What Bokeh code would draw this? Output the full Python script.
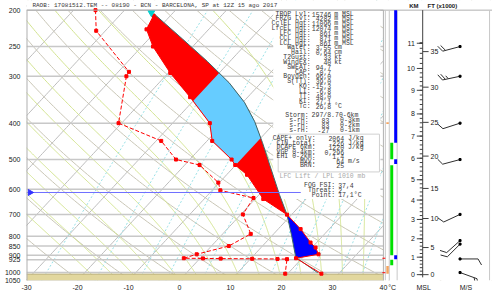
import numpy as np
from bokeh.plotting import figure
from bokeh.models import Range1d, FixedTicker
from bokeh.embed import file_html
from bokeh.resources import INLINE
from bokeh.core.properties import value

# ------------------------------------------------------------------ data
title_text = "RAOB:  17081512.TEM  --  08190 - BCN - BARCELONA, SP at 12Z 15 ago 2017"

pressure_ticks = [200, 250, 300, 400, 500, 600, 700, 800, 850, 900, 925, 1000, 1050]
temp_ticks = [-30, -20, -10, 0, 10, 20, 30, 40]

# environmental temperature (hPa, degC)
env_p = [207, 225, 250, 294, 341, 400, 446, 500, 517, 549, 637, 701, 766, 832, 858, 894, 916, 1007]
env_t = [-53.3, -52.2, -47.8, -39.6, -31.3, -22.7, -19.0, -11.8, -10.1, -6.0, 1.6, 9.1, 14.4, 18.8, 20.7, 22.5, 18.8, 26.6]

# lifted parcel path
parcel_p = [205, 239, 274, 312, 352, 396, 451, 533, 619, 701, 799, 911, 1001]
parcel_t = [-53.4, -43.3, -34.4, -26.3, -19.7, -14.2, -8.8, -2.1, 3.9, 9.1, 13.9, 18.6, 25.7]

# dew point
dew_p = [200, 227, 292, 300, 400, 446, 500, 517, 576, 604, 633, 700, 789, 850, 894, 916, 917, 918, 919, 920, 921, 1007]
dew_t = [-65.7, -61.8, -47.9, -47.6, -40.6, -29.0, -22.7, -17.1, -10.2, -8.4, -0.5, 0.4, 5.5, 3.4, -1.4, -3.2, 0.6, 4.1, 10.3, 15.3, 17.2, 19.5]

cross_p = 701          # parcel / environment crossing
lfc_p = 911
el_p = 203
hail_zone = [-30, -10]  # isotherms bounding the hail growth zone
frzg_p = 612
surface_p = 1010

# height scale of the sounding
km_levels = [0, 1, 2, 3, 4, 5, 6, 7, 8, 9, 10, 11]
km_p = [1013, 910, 813, 722, 641, 566, 496, 433, 378, 327, 286, 245]
ft_levels = [0, 5, 10, 15, 20, 25, 30, 35]

# winds (hPa, direction deg, speed m/s)
wind_p = [250, 300, 400, 500, 700, 822, 840, 920, 1000]
wind_dir = [255, 258, 252, 255, 245, 228, 225, 90, 110]
wind_spd = [20, 25, 10, 10, 10, 10, 10, 10, 15]

# side bars (pressure top, pressure bottom)
blue_bars = [(200, 451), (499, 514), (899, 921)]
green_bars = [(451, 499), (518, 899), (925, 956)]
orange_bars = [(961, 1007), (398, 402)]

stat_labels = ["TROP Lvl:", "FRZG Lvl:", "CclEL Hgt:", "LfcEL Hgt:", "LFC Hgt:", "CCL Hgt:", "LCL Hgt:",
               "Water:", "Hail:", "T2Gust:", "WindEX:", "SWEAT:", "CAP:", "Boyden:", "S(TT):",
               "KO:", "LI:", "TT:", "KI:", "Tc:"]
stat_values = ["15746", "4282", "11096", "12074", "861", "871", "861", "3,55", "0,64", "33", "40",
               "94,7", "-0,7", "96,0", "39,0", "-15,3", "-6,8", "48,0", "27,1", "26,8"]
stat_units = ["m MSL"] * 7 + ["cm", "cm", "kt", "kt", "", "", "", "", "", "", "", "", "°C"]

storm_labels = ["Storm:", "s-rH:", "s-rH:", "s-rH:"]
storm_values = ["297/8.70-6km", "83", "83", "-27"]
storm_units = ["", "0-3km", "0-2km", "0-1km"]

cape_labels = ["CAPE+ only:", "CIN total:", "DCAPE 6km:", "VGP 0-4km:", "EHI 0-2km:", "MVV:", "BRN:"]
cape_values = ["2064", "-226", "1220", "0,296", "1,4", "64", "25"]
cape_units = ["J/kg", "J/kg", "J/kg", "", "", "m/s", ""]

lift_text = "LFC Lift / LPL 1010 mb"
fog_labels = ["FOG FSI:", "Threat:", "Point:"]
fog_values = ["37,4", "2", "17,1°C"]

# ------------------------------------------------------------------ geometry helpers
K = 29.69                 # skew factor
X0, X1 = -30.0, 61.40     # x range (skewed degC)
PTOP, PBOT = 188.5, 1050.0


def skx(t, p):
    return np.asarray(t, float) + K * np.log(PBOT / np.asarray(p, float))


def rx(xref):   # reference pixel column -> data x
    return (xref - 26.0) / 5.186 - 30.0


def ry(yref):   # reference pixel row -> pressure
    return 200.0 * np.exp((yref - 10.0) / 168.3)


W, H = 492, 293
BL, BB = 26, 12
p = figure(width=W, height=H, x_range=Range1d(X0, X1), y_range=Range1d(PBOT, PTOP),
           y_axis_type="log", output_backend="svg", toolbar_location=None,
           min_border_left=BL, min_border_right=0, min_border_top=0, min_border_bottom=BB)
p.outline_line_color = None
p.xgrid.visible = False
p.ygrid.visible = False
p.background_fill_color = "white"

PXX = (W - BL) / (X1 - X0)
PXY = (H - BB) / np.log(PBOT / PTOP)

# ------------------------------------------------------------------ background lines
pp = np.exp(np.linspace(np.log(PBOT), np.log(PTOP), 120))
iso_t = np.arange(-130, 50, 10)
p.multi_line([list(skx(np.full_like(pp, t), pp)) for t in iso_t], [list(pp)] * len(iso_t),
             line_color="#bdbdbd", line_width=1)

theta = np.arange(230, 500, 10)
p.multi_line([list(skx(th * (pp / 1000.0) ** 0.2857 - 273.15, pp)) for th in theta],
             [list(pp)] * len(theta), line_color="#c9c6b6", line_width=1)


def sat_mr(tc, pr):
    es = 6.112 * np.exp(17.67 * tc / (tc + 243.5))
    return 0.622 * es / (pr - es)


def moist(t0):
    pr = np.arange(PBOT, PTOP - 2, -3.0)
    out = [t0]
    t = t0
    for i in range(1, len(pr)):
        tk = t + 273.15
        rs = sat_mr(t, pr[i - 1])
        d = (287.04 * tk + 2.501e6 * rs) / (1005.7 + 2.501e6 ** 2 * rs * 0.622 / (287.04 * tk * tk)) / pr[i - 1]
        t = t + d * (pr[i] - pr[i - 1])
        out.append(t)
    return pr, np.array(out)


moist_start = np.arange(-16, 44, 4)
mx, my = [], []
for t0 in moist_start:
    pr, tt = moist(t0)
    mx.append(list(skx(tt, pr)))
    my.append(list(pr))
p.multi_line(mx, my, line_color="#d2e38f", line_width=1)

mix_w = [0.4, 1, 2, 3, 5, 8, 12, 16, 20, 28, 36]
wx = []
for w in mix_w:
    e = w * pp / (622.0 + w)
    lg = np.log(e / 6.112)
    td = 243.5 * lg / (17.67 - lg)
    wx.append(list(skx(td, pp)))
p.multi_line(wx, [list(pp)] * len(mix_w), line_color="#98e0e6", line_width=1, line_dash="2 2")

# masks: right panel, top strip
p.quad(left=40, right=X1, bottom=PBOT, top=PTOP, fill_color="white", line_color=None)
p.quad(left=X0, right=X1, bottom=200, top=PTOP, fill_color="white", line_color=None)

# isobars
p.segment(x0=[-30] * len(pressure_ticks), x1=[40] * len(pressure_ticks), y0=pressure_ticks,
          y1=pressure_ticks, line_color="#c8c8c8", line_width=1.5)

# text box mask
p.quad(left=rx(277), right=rx(386), bottom=ry(205), top=200, fill_color="white", line_color=None)

# ground
p.quad(left=-30, right=40, bottom=PBOT, top=surface_p, fill_color="#e2d79e", line_color=None)
p.segment(x0=[-30], x1=[40], y0=[surface_p], y1=[surface_p], line_color="#b9ad74", line_width=1)

# ------------------------------------------------------------------ CAPE / CIN areas
ep = np.array(env_p, float); et = np.array(env_t, float)
qp = np.array(parcel_p, float); qt = np.array(parcel_t, float)

m1 = qp <= cross_p
m2 = ep <= cross_p
cape_px = np.concatenate([skx(qt[m1], qp[m1]), skx(et[m2], ep[m2])[::-1]])
cape_pp = np.concatenate([qp[m1], ep[m2][::-1]])
p.patch(list(cape_px), list(cape_pp), fill_color="#ff0000", line_color=None)


def clip(poly, f):
    out = []
    n = len(poly)
    for i in range(n):
        a, b = poly[i], poly[(i + 1) % n]
        fa, fb = f(a), f(b)
        if fa >= 0:
            out.append(a)
        if (fa >= 0) != (fb >= 0):
            s = fa / (fa - fb)
            out.append((a[0] + s * (b[0] - a[0]), a[1] + s * (b[1] - a[1])))
    return out


poly = [(x, np.log(PBOT / y)) for x, y in zip(cape_px, cape_pp)]
poly = clip(poly, lambda v: (v[0] - K * v[1]) - hail_zone[0])
poly = clip(poly, lambda v: hail_zone[1] - (v[0] - K * v[1]))
p.patch([v[0] for v in poly], [PBOT * np.exp(-v[1]) for v in poly], fill_color="#66ccff", line_color=None)

m3 = (qp >= cross_p) & (qp <= lfc_p)
m4 = (ep >= cross_p) & (ep <= 916)
cin_px = np.concatenate([skx(qt[m3], qp[m3]), skx(et[m4], ep[m4])[::-1]])
cin_pp = np.concatenate([qp[m3], ep[m4][::-1]])
p.patch(list(cin_px), list(cin_pp), fill_color="#0000ff", line_color=None)

# parcel line
p.line(skx(qt, qp), qp, line_color="#3d6b6b", line_width=1)
# environment temperature
p.line(skx(et, ep), ep, line_color="#ff0000", line_width=1)
p.scatter(skx(et, ep), ep, marker="square", size=3, color="#ff0000")
# dew point
p.line(skx(dew_t, dew_p), dew_p, line_color="#ff0000", line_width=1, line_dash="4 2")
p.scatter(skx(dew_t, dew_p), dew_p, marker="square", size=3, color="#ff0000")

# equilibrium level marker
p.scatter([rx(153)], [el_p], marker="inverted_triangle", size=7, color="#00d0d0")

# freezing level
p.segment(x0=[-30], x1=[rx(305)], y0=[frzg_p], y1=[frzg_p], line_color="#6f6fff", line_width=1)
p.scatter([-29.3], [frzg_p], marker="triangle", angle=-np.pi / 2, size=6, color="#3333ff")

# frame lines
p.segment(x0=[-30, X0, 40], x1=[-30, X1, 40], y0=[200, 200, 200], y1=[PBOT, 200, PBOT],
          line_color="#b0b0b0", line_width=[2, 1, 1])
p.segment(x0=[rx(x) for x in (391, 395, 403, 497)], x1=[rx(x) for x in (391, 395, 403, 497)],
          y0=[200] * 4, y1=[PBOT] * 4, line_color="#c8c8c8", line_width=1)

# side bars
for a, b in blue_bars:
    p.quad(left=rx(400), right=rx(403), top=a, bottom=b, fill_color="#0000ff", line_color=None)
for a, b in green_bars:
    p.quad(left=rx(396), right=rx(399), top=a, bottom=b, fill_color="#00e000", line_color=None)
for a, b in orange_bars:
    p.quad(left=rx(392), right=rx(394.5), top=a, bottom=b, fill_color="#f4a460", line_color=None)
p.segment(x0=[rx(388)] * 2, x1=[rx(391)] * 2, y0=[916, 1001], y1=[916, 1001], line_color="#ff0000", line_width=1)

# ------------------------------------------------------------------ height axis
ax = rx(429)
lkm = np.log(np.array(km_p, float))
p.segment(x0=[ax], x1=[ax], y0=[200], y1=[1030], line_color="#404040", line_width=1)
minor_km = np.arange(0, 11.81, 0.2)
mp = list(np.exp(np.interp(minor_km, km_levels, lkm)))
p.segment(x0=[rx(426)] * len(mp), x1=[ax] * len(mp), y0=mp, y1=mp, line_color="#404040", line_width=1)
p.segment(x0=[rx(423)] * len(km_p), x1=[ax] * len(km_p), y0=km_p, y1=km_p, line_color="#404040", line_width=1)
p.text([rx(421)] * len(km_p), km_p, text=[str(k) for k in km_levels], text_align="right",
       text_baseline="middle", text_font=value("Liberation Sans"), text_font_size="7px", text_color="#202020")
ft_km = np.array(ft_levels) * 0.3048
ft_p = list(np.exp(np.interp(ft_km, km_levels, lkm)))
p.segment(x0=[ax] * len(ft_p), x1=[rx(435)] * len(ft_p), y0=ft_p, y1=ft_p, line_color="#404040", line_width=1)
p.text([rx(437)] * len(ft_p), ft_p, text=[str(f) for f in ft_levels], text_align="left",
       text_baseline="middle", text_font=value("Liberation Sans"), text_font_size="7px", text_color="#202020")
p.text([rx(420), rx(449)], [ry(6), ry(6)], text=["KM", "FT (x1000)"], text_align="center",
       text_baseline="middle", text_font=value("Liberation Sans"), text_font_size="6px",
       text_font_style="bold", text_color="#202020")

# ------------------------------------------------------------------ wind barbs
sx = rx(467)
bx, by = [], []
for wp, wd, ws in zip(wind_p, wind_dir, wind_spd):
    r = np.deg2rad(wd)
    ux, uy = np.sin(r), np.cos(r)
    L = 18.0

    def pt(dx, dy):
        return sx + dx / PXX, wp * np.exp(-dy / PXY)

    a = pt(0, 0); b = pt(ux * L, uy * L)
    bx.append([a[0], b[0]]); by.append([a[1], b[1]])
    bxv = ux * np.cos(np.deg2rad(60)) + uy * np.sin(np.deg2rad(60))
    byv = -ux * np.sin(np.deg2rad(60)) + uy * np.cos(np.deg2rad(60))
    nfull, half = int(ws // 10), (ws % 10) >= 5
    pos = L
    for i in range(nfull):
        s0 = pt(ux * pos, uy * pos)
        s1 = pt(ux * pos + bxv * 7, uy * pos + byv * 7)
        bx.append([s0[0], s1[0]]); by.append([s0[1], s1[1]])
        pos -= 3
    if half:
        s0 = pt(ux * pos, uy * pos)
        s1 = pt(ux * pos + bxv * 4, uy * pos + byv * 4)
        bx.append([s0[0], s1[0]]); by.append([s0[1], s1[1]])
p.multi_line(bx, by, line_color="#303030", line_width=1)
p.scatter([sx] * len(wind_p), wind_p, marker="square", size=2, color="#000000")

# ------------------------------------------------------------------ texts
mono = value("Liberation Mono")
fs = "6.5px"
tc = "#3a3a3a"
p.text([rx(32)], [ry(5)], text=[title_text], text_font=mono, text_font_size="6px",
       text_baseline="middle", text_color=tc)

yy = [ry(14 + 5.0 * i) for i in range(len(stat_labels))]
p.text([rx(315)] * len(yy), yy, text=stat_labels, text_align="right", text_baseline="middle",
       text_font=mono, text_font_size=fs, text_color=tc)
p.text([rx(336)] * len(yy), yy, text=stat_values, text_align="right", text_baseline="middle",
       text_font=mono, text_font_size=fs, text_color=tc)
p.text([rx(339)] * len(yy), yy, text=stat_units, text_align="left", text_baseline="middle",
       text_font=mono, text_font_size=fs, text_color=tc)

ys = [ry(119 + 5.0 * i) for i in range(len(storm_labels))]
p.text([rx(313)] * 4, ys, text=storm_labels, text_align="right", text_baseline="middle",
       text_font=mono, text_font_size=fs, text_color=tc)
p.text([rx(316)], [ys[0]], text=[storm_values[0]], text_align="left", text_baseline="middle",
       text_font=mono, text_font_size=fs, text_color=tc)
p.text([rx(334)] * 3, ys[1:], text=storm_values[1:], text_align="right", text_baseline="middle",
       text_font=mono, text_font_size=fs, text_color=tc)
p.text([rx(345)] * 3, ys[1:], text=storm_units[1:], text_align="left", text_baseline="middle",
       text_font=mono, text_font_size=fs, text_color=tc)

p.quad(left=rx(282), right=rx(385), top=ry(138), bottom=ry(177), fill_color=None, line_color="#d0d0d0")
yc = [ry(143 + 4.6 * i) for i in range(len(cape_labels))]
p.text([rx(320)] * len(yc), yc, text=cape_labels, text_align="right", text_baseline="middle",
       text_font=mono, text_font_size=fs, text_color=tc)
p.text([rx(349)] * len(yc), yc, text=cape_values, text_align="right", text_baseline="middle",
       text_font=mono, text_font_size=fs, text_color=tc)
p.text([rx(353)] * len(yc), yc, text=cape_units, text_align="left", text_baseline="middle",
       text_font=mono, text_font_size=fs, text_color=tc)

p.text([rx(327)], [ry(182)], text=[lift_text], text_align="center", text_baseline="middle",
       text_font=mono, text_font_size=fs, text_color="#a8a8a8")
yf = [ry(191 + 5.2 * i) for i in range(3)]
p.text([rx(340)] * 3, yf, text=fog_labels, text_align="right", text_baseline="middle",
       text_font=mono, text_font_size=fs, text_color=tc)
p.text([rx(343)] * 3, yf, text=fog_values, text_align="left", text_baseline="middle",
       text_font=mono, text_font_size=fs, text_color=tc)

# ------------------------------------------------------------------ axes
for axis in (p.xaxis, p.yaxis):
    axis.axis_line_color = None
    axis.major_tick_line_color = None
    axis.minor_tick_line_color = None
    axis.major_tick_out = 0
    axis.major_tick_in = 0
    axis.minor_tick_out = 0
    axis.minor_tick_in = 0
    axis.major_label_text_font = "Liberation Sans"
    axis.major_label_text_font_size = "7px"
    axis.major_label_text_color = "#202020"

p.yaxis.ticker = FixedTicker(ticks=pressure_ticks)
p.yaxis.major_label_overrides = {t: str(t) for t in pressure_ticks}
p.yaxis.major_label_standoff = 6

bottom_ticks = temp_ticks + [rx(398), rx(430), rx(473)]
p.xaxis.ticker = FixedTicker(ticks=bottom_ticks)
ov = {t: str(t) for t in temp_ticks}
ov.update({bottom_ticks[-3]: "°C", bottom_ticks[-2]: "MSL", bottom_ticks[-1]: "M/S"})
p.xaxis.major_label_overrides = ov
p.xaxis.major_label_standoff = 3

open("out.html", "w").write(file_html(p, INLINE))
